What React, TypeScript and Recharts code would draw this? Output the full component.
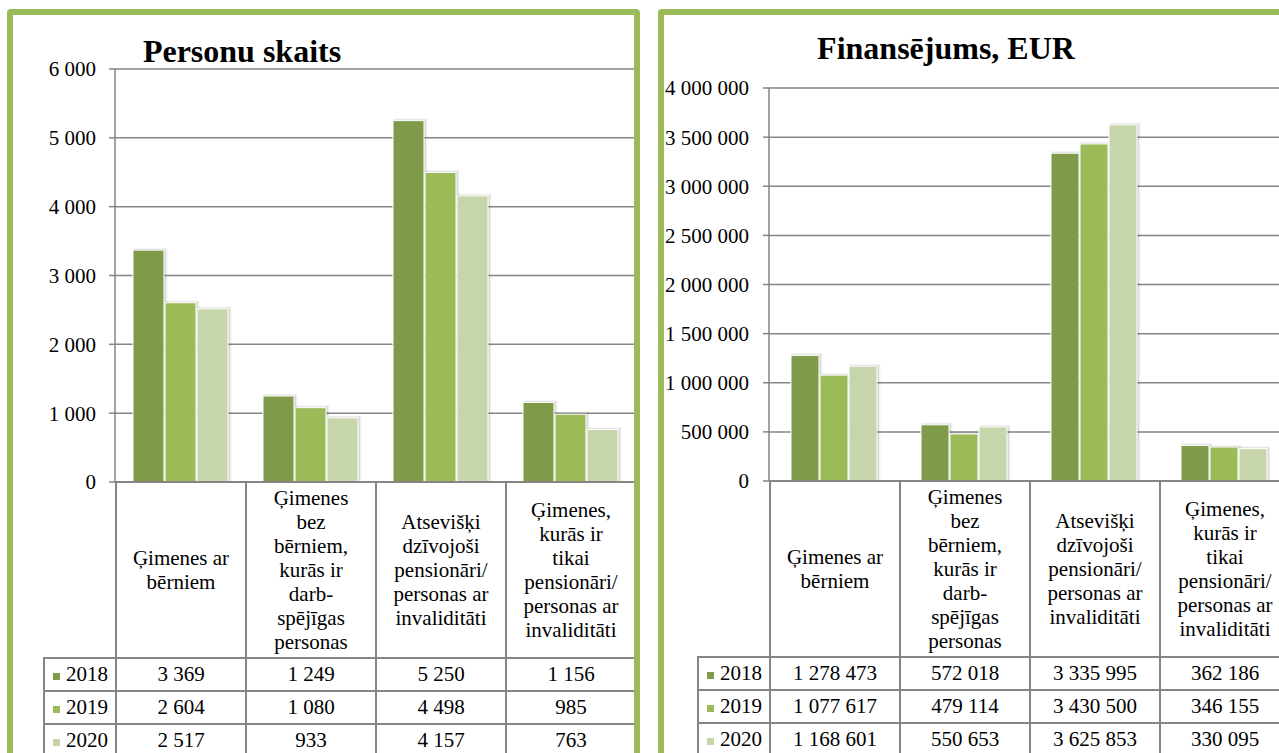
import { BarChart, Bar, XAxis, YAxis, CartesianGrid } from "recharts";

const CATEGORIES = [
  "Ģimenes ar\nbērniem",
  "Ģimenes\nbez\nbērniem,\nkurās ir\ndarb-\nspējīgas\npersonas",
  "Atsevišķi\ndzīvojoši\npensionāri/\npersonas ar\ninvaliditāti",
  "Ģimenes,\nkurās ir\ntikai\npensionāri/\npersonas ar\ninvaliditāti",
];
const YEARS = ["2018", "2019", "2020"];
const YEAR_COLORS = ["#7f9b49", "#9bbb59", "#c6d6aa"];

// Personu skaits
const PERSONS_2018 = [3369, 1249, 5250, 1156];
const PERSONS_2019 = [2604, 1080, 4498, 985];
const PERSONS_2020 = [2517, 933, 4157, 763];
const PERSONS_TICKS = [0, 1000, 2000, 3000, 4000, 5000, 6000];

// Finansējums, EUR
const FUNDING_2018 = [1278473, 572018, 3335995, 362186];
const FUNDING_2019 = [1077617, 479114, 3430500, 346155];
const FUNDING_2020 = [1168601, 550653, 3625853, 330095];
const FUNDING_TICKS = [0, 500000, 1000000, 1500000, 2000000, 2500000, 3000000, 3500000, 4000000];

const FONT = "'Liberation Serif', 'Times New Roman', serif";
const GRID = "#858585";
const CAT_W = 130;
const FIRST_COL = 72;

const fmt = (v: number) => String(v).replace(/\B(?=(\d{3})+(?!\d))/g, " ");

// bar with white outline and a soft shadow, like the Excel original
function ShadowBar(props: any) {
  const { x, y, width, height, fill } = props;
  if (!height) return null;
  return (
    <g>
      <rect x={x + 0.5} y={y - 2} width={width + 3} height={height + 2} fill="rgba(0,0,0,0.06)" />
      <rect x={x + 0.5} y={y - 1} width={width + 1.5} height={height + 1} fill="rgba(0,0,0,0.10)" />
      <rect x={x} y={y} width={width} height={height} fill={fill} stroke="#fff" strokeWidth={1} />
    </g>
  );
}

interface PanelProps {
  title: string;
  series: number[][];
  ticks: number[];
  frameLeft: number;
  frameWidth: number;
  titleX: number;
  titleTop: number;
  chartLeft: number;
  axisWidth: number;
  plotTop: number;
  zeroY: number;
  catGap: number;
  tickMargin: number;
}

function Panel({
  title,
  series,
  ticks,
  frameLeft,
  frameWidth,
  titleX,
  titleTop,
  chartLeft,
  axisWidth,
  plotTop,
  zeroY,
  catGap,
  tickMargin,
}: PanelProps) {
  const data = CATEGORIES.map((cat, i) => ({
    cat,
    y2018: series[0][i],
    y2019: series[1][i],
    y2020: series[2][i],
  }));
  const tableLeft = chartLeft + axisWidth - FIRST_COL;
  const cell = {
    border: `2px solid ${GRID}`,
    padding: 0,
    textAlign: "center" as const,
    verticalAlign: "middle" as const,
    fontFamily: FONT,
    fontSize: 21,
  };

  return (
    <>
      <BarChart
        width={axisWidth + CAT_W * 4}
        height={zeroY + 24}
        data={data}
        margin={{ top: plotTop, right: 0, bottom: 24, left: 0 }}
        barCategoryGap={catGap}
        barGap={1}
        style={{ position: "absolute", left: chartLeft, top: 0 }}
      >
        <CartesianGrid vertical={false} stroke={GRID} strokeWidth={1.5} />
        <XAxis dataKey="cat" hide />
        <YAxis
          width={axisWidth}
          domain={[ticks[0], ticks[ticks.length - 1]]}
          ticks={ticks}
          interval={0}
          tickFormatter={fmt}
          tickSize={6}
          tickMargin={tickMargin}
          axisLine={{ stroke: GRID, strokeWidth: 1.5 }}
          tickLine={{ stroke: GRID, strokeWidth: 1.5 }}
          tick={{ fontSize: 21, fill: "#000", fontFamily: FONT }}
        />
        {["y2018", "y2019", "y2020"].map((k, i) => (
          <Bar
            key={k}
            dataKey={k}
            fill={YEAR_COLORS[i]}
            shape={ShadowBar}
            isAnimationActive={false}
          />
        ))}
      </BarChart>

      <table
        style={{
          position: "absolute",
          left: tableLeft,
          top: zeroY - 1,
          width: FIRST_COL + CAT_W * 4,
          borderCollapse: "collapse",
          tableLayout: "fixed",
          fontFamily: FONT,
          fontSize: 21,
          color: "#000",
        }}
      >
        <colgroup>
          <col style={{ width: FIRST_COL }} />
          {CATEGORIES.map((c) => (
            <col key={c} style={{ width: CAT_W }} />
          ))}
        </colgroup>
        <tbody>
          <tr>
            <td style={{ border: "none", height: 175, padding: 0 }} />
            {CATEGORIES.map((c) => (
              <td key={c} style={{ ...cell, whiteSpace: "pre-line", lineHeight: "24px", background: "#fff" }}>
                {c}
              </td>
            ))}
          </tr>
          {YEARS.map((y, r) => (
            <tr key={y} style={{ background: "#fff" }}>
              <td style={{ ...cell, height: 31, textAlign: "left", lineHeight: 1 }}>
                <span
                  style={{
                    display: "inline-block",
                    width: 7,
                    height: 7,
                    background: YEAR_COLORS[r],
                    margin: "0 6px 0 8px",
                    verticalAlign: "middle",
                  }}
                />
                {y}
              </td>
              {series[r].map((v, i) => (
                <td key={i} style={{ ...cell, lineHeight: 1 }}>
                  {fmt(v)}
                </td>
              ))}
            </tr>
          ))}
        </tbody>
      </table>

      <div
        style={{
          position: "absolute",
          left: titleX - 200,
          top: titleTop,
          width: 400,
          textAlign: "center",
          fontFamily: FONT,
          fontWeight: "bold",
          fontSize: 32,
          lineHeight: "32px",
          color: "#000",
        }}
      >
        {title}
      </div>

      <div
        style={{
          position: "absolute",
          left: frameLeft,
          top: 9,
          width: frameWidth,
          height: 820,
          border: "6px solid #9bbb59",
          borderRadius: 4,
          boxSizing: "border-box",
          pointerEvents: "none",
          zIndex: 5,
        }}
      />
    </>
  );
}

export default function App() {
  return (
    <div
      style={{
        position: "fixed",
        left: 0,
        top: 0,
        width: 1279,
        height: 753,
        overflow: "hidden",
        background: "#fff",
      }}
    >
      <Panel
        title="Personu skaits"
        series={[PERSONS_2018, PERSONS_2019, PERSONS_2020]}
        ticks={PERSONS_TICKS}
        frameLeft={7}
        frameWidth={633}
        titleX={242}
        titleTop={35}
        chartLeft={0}
        axisWidth={115}
        plotTop={69}
        zeroY={482}
        catGap={18}
        tickMargin={13}
      />
      <Panel
        title="Finansējums, EUR"
        series={[FUNDING_2018, FUNDING_2019, FUNDING_2020]}
        ticks={FUNDING_TICKS}
        frameLeft={658}
        frameWidth={700}
        titleX={946}
        titleTop={32}
        chartLeft={650}
        axisWidth={119}
        plotTop={88}
        zeroY={481}
        catGap={22}
        tickMargin={14}
      />
    </div>
  );
}
